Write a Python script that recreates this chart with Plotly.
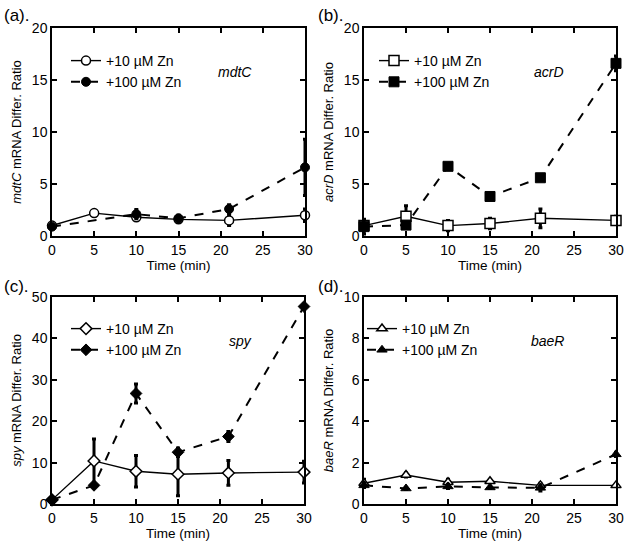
import plotly.graph_objects as go

# ---------------- data ----------------
time = [0, 5, 10, 15, 21, 30]

genes = ["mdtC", "acrD", "spy", "baeR"]
panel_labels = ["(a).", "(b).", "(c).", "(d)."]
series_names = ["+10 µM Zn", "+100 µM Zn"]

a_lo = [1.0, 2.2, 1.8, 1.6, 1.5, 2.0]
a_lo_err = [0.1, 0.15, 0.2, 0.15, 0.5, 0.6]
a_hi = [0.9, None, 2.1, 1.7, 2.6, 6.6]
a_hi_err = [0.1, 0.0, 0.45, 0.3, 0.4, 2.7]

b_lo = [1.0, 1.9, 1.0, 1.2, 1.7, 1.5]
b_lo_err = [0.5, 1.0, 0.5, 0.5, 0.9, 0.4]
b_hi = [0.9, 1.05, 6.7, 3.8, 5.6, 16.6]
b_hi_err = [0.7, 0.1, 0.2, 0.1, 0.2, 0.7]

c_lo = [1.0, 10.4, 7.9, 7.2, 7.5, 7.7]
c_lo_err = [0.3, 5.3, 3.8, 5.2, 3.0, 2.6]
c_hi = [1.0, 4.5, 26.7, 12.5, 16.3, 47.7]
c_hi_err = [0.3, 0.5, 2.3, 1.0, 1.2, 0.6]

d_lo = [1.0, 1.4, 1.05, 1.1, 0.9, 0.9]
d_lo_err = [0.2, 0.1, 0.15, 0.05, 0.1, 0.05]
d_hi = [0.9, 0.75, 0.85, 0.8, 0.78, 2.4]
d_hi_err = [0.1, 0.05, 0.1, 0.05, 0.15, 0.1]

y_ranges = [[0, 20], [0, 20], [0, 50], [0, 10]]
y_dticks = [5, 5, 10, 2]

# ---------------- layout geometry ----------------
W, H = 629, 549
def px_x(p): return p / W
def px_y(p): return 1 - p / H

domains = [
    ([px_x(52), px_x(305)], [px_y(236), px_y(28)]),
    ([px_x(364), px_x(616)], [px_y(236), px_y(28)]),
    ([px_x(52), px_x(304)], [px_y(504), px_y(297)]),
    ([px_x(364), px_x(616)], [px_y(504), px_y(297)]),
]
legend_pos = [(px_x(66), px_y(45)), (px_x(374), px_y(45)),
              (px_x(66), px_y(313)), (px_x(362), px_y(313))]
label_pos = [(px_x(2), px_y(15)), (px_x(316), px_y(15)),
             (px_x(2), px_y(286)), (px_x(316), px_y(286))]

symbols_fill = ["circle", "square", "diamond", "triangle-up"]
msize = [9, 10, 9, 9]

panels = [
    (a_lo, a_lo_err, a_hi, a_hi_err),
    (b_lo, b_lo_err, b_hi, b_hi_err),
    (c_lo, c_lo_err, c_hi, c_hi_err),
    (d_lo, d_lo_err, d_hi, d_hi_err),
]

FONT = "Liberation Sans, Arial, sans-serif"
fig = go.Figure()
annotations = []
layout = {}

for i, (lo, lo_err, hi, hi_err) in enumerate(panels):
    n = "" if i == 0 else str(i + 1)
    xa, ya = "x" + n, "y" + n
    leg = "legend" + n
    fig.add_trace(go.Scatter(
        x=time, y=lo, name=series_names[0], mode="lines+markers",
        xaxis=xa, yaxis=ya, legend=leg, cliponaxis=False,
        line=dict(color="black", width=1.4),
        marker=dict(symbol=symbols_fill[i], size=msize[i], color="white",
                    line=dict(color="black", width=1.5)),
        error_y=dict(type="data", array=lo_err, color="black", thickness=3, width=2),
    ))
    fig.add_trace(go.Scatter(
        x=time, y=hi, name=series_names[1], mode="lines+markers",
        xaxis=xa, yaxis=ya, legend=leg, cliponaxis=False, connectgaps=True,
        line=dict(color="black", width=2, dash="dash"),
        marker=dict(symbol=symbols_fill[i], size=msize[i], color="black",
                    line=dict(color="black", width=1)),
        error_y=dict(type="data", array=hi_err, color="black", thickness=3, width=2),
    ))
    dx, dy = domains[i]
    axis_common = dict(showline=True, linecolor="black", linewidth=1.5, mirror="ticks",
                       ticks="inside", ticklen=5, tickwidth=1.5, tickcolor="black",
                       showgrid=False, zeroline=False, automargin=False,
                       tickfont=dict(family=FONT, size=14, color="black"))
    layout["xaxis" + n] = dict(domain=dx, anchor=ya, range=[0, 30], dtick=5, tick0=0,
                               title=dict(text="Time (min)", standoff=3,
                                          font=dict(family=FONT, size=13.5, color="black")),
                               **axis_common)
    layout["yaxis" + n] = dict(domain=dy, anchor=xa, range=y_ranges[i], dtick=y_dticks[i], tick0=0,
                               title=dict(text=f"<i>{genes[i]}</i> mRNA Differ. Ratio", standoff=7,
                                          font=dict(family=FONT, size=13, color="black")),
                               **axis_common)
    lx, ly = legend_pos[i]
    layout[leg] = dict(x=lx, y=ly, xanchor="left", yanchor="top", bgcolor="rgba(0,0,0,0)",
                       font=dict(family=FONT, size=14, color="black"),
                       itemwidth=30, tracegroupgap=0, traceorder="normal")
    annotations.append(dict(text=f"<i>{genes[i]}</i>", xref=xa + " domain", yref=ya + " domain",
                            x=0.8, y=0.835, showarrow=False,
                            font=dict(family=FONT, size=14, color="black")))
    px_, py_ = label_pos[i]
    annotations.append(dict(text=panel_labels[i], xref="paper", yref="paper", x=px_, y=py_,
                            xanchor="left", yanchor="middle", showarrow=False,
                            font=dict(family=FONT, size=17, color="black")))

fig.update_layout(width=W, height=H, margin=dict(l=0, r=0, t=0, b=0, autoexpand=False),
                  plot_bgcolor="white", paper_bgcolor="white",
                  annotations=annotations, **layout)

fig.write_html("out.html", config={"displayModeBar": False},
               post_script="document.body.style.margin='0';document.body.style.overflow='hidden';")
